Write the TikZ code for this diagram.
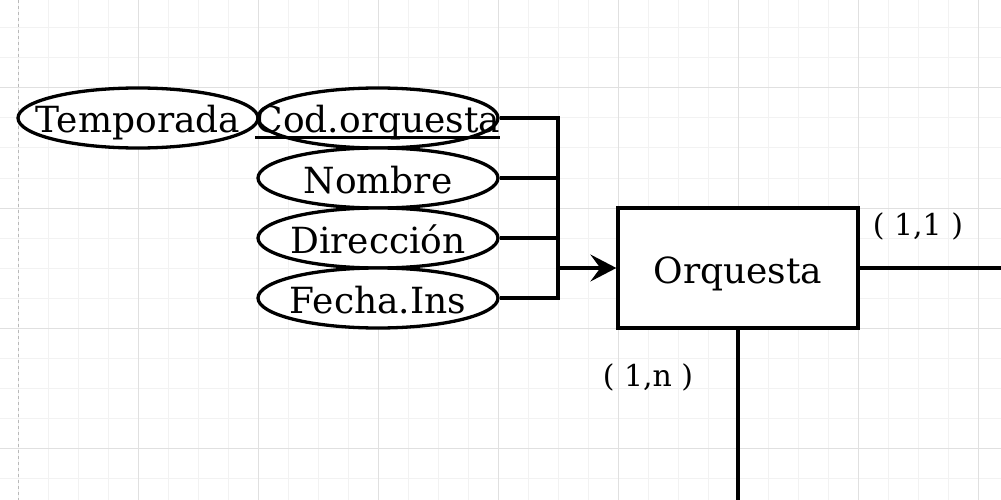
\documentclass[tikz,border=0pt]{standalone}
\usepackage{fontspec}
\setmainfont{DejaVu Serif}
\usetikzlibrary{arrows.meta,shapes.geometric}
\definecolor{gminor}{HTML}{F2F2F2}
\definecolor{gmajor}{HTML}{E0E0E0}
\newcommand{\zw}[1]{\makebox[0pt]{#1}}
\begin{document}
\begin{tikzpicture}[x=1pt,y=-1pt,
  attr/.style={ellipse,draw=black,fill=white,line width=3.3pt,minimum width=240pt,minimum height=60pt,inner sep=0pt,text height=30pt,text depth=0pt,font=\fontsize{36}{40}\selectfont},
  entity/.style={rectangle,draw=black,fill=white,line width=3.3pt,minimum width=240pt,minimum height=120pt,inner sep=0pt,text height=30pt,text depth=0pt,font=\fontsize{36}{40}\selectfont},
  lbl/.style={inner sep=0pt,font=\fontsize{30}{34}\selectfont},
  conn/.style={draw=black,line width=3.3pt},
  gridminor/.style={draw=gminor,line width=1pt},
  gridmajor/.style={draw=gmajor,line width=1pt}]
\path[use as bounding box, fill=white] (0,0) rectangle (1001,500);
\foreach \x in {18,48,...,1000} \draw[gridminor] (\x,0) -- (\x,500);
\foreach \y in {28,58,...,499} \draw[gridminor] (0,\y) -- (1001,\y);
\foreach \x in {138,258,...,1000} \draw[gridmajor] (\x,0) -- (\x,500);
\foreach \y in {88,208,...,499} \draw[gridmajor] (0,\y) -- (1001,\y);
\draw[gray!55,dashed,line width=1pt] (18,0) -- (18,500);

\node[attr] (temp) at (138,118) {\zw{Temporada}};
\node[attr] (cod) at (378,118) {\zw{Cod.orquesta}};
\node[attr] (nom) at (378,178) {\zw{Nombre}};
\node[attr] (dir) at (378,238) {\zw{Dirección}};
\node[attr] (fec) at (378,298) {\zw{Fecha.Ins}};
\draw[line width=2.8pt] (255,137.5) -- (500,137.5);

\node[entity] (orq) at (738,268) {Orquesta};

\coordinate (j) at (558,268);
\coordinate (r) at (1001,268);
\coordinate (bt) at (738,500);

\draw[conn] (cod.east) -| (j);
\draw[conn] (nom.east) -| (j);
\draw[conn] (dir.east) -| (j);
\draw[conn] (fec.east) -| (j);
\draw[conn,-{Stealth[length=26pt,width=27pt,inset=10pt]}] (j) -- (orq.west);
\draw[conn] (orq.east) -- (r);
\draw[conn] (orq.south) -- (bt);

\node[lbl] (l11) at (918,226) {( 1,1 )};
\node[lbl] (l1n) at (648,377) {( 1,n )};
\end{tikzpicture}
\end{document}
